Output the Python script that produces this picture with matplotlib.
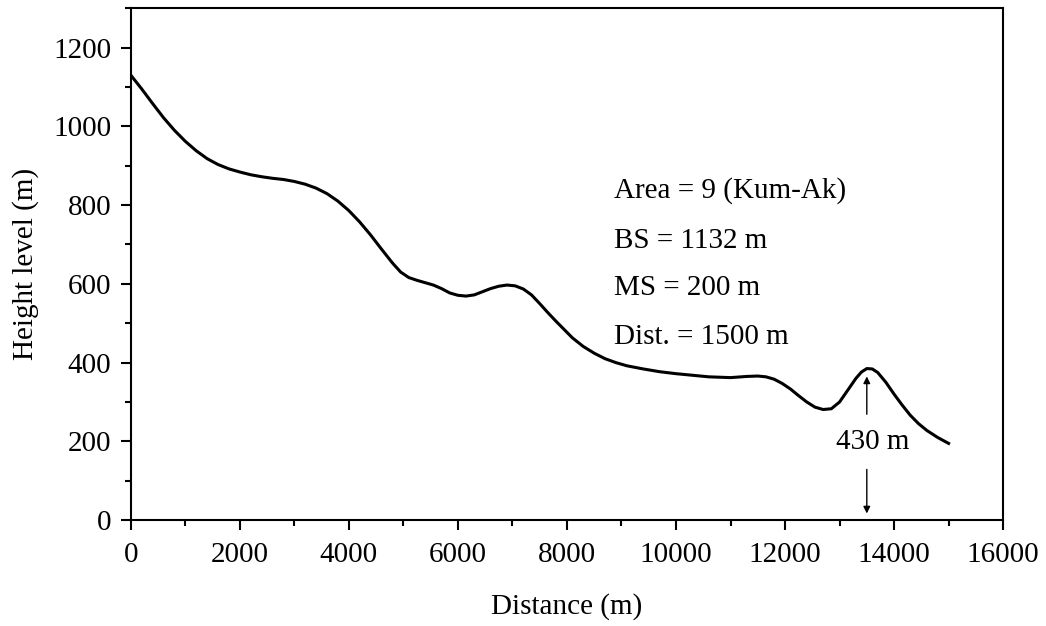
import matplotlib.pyplot as plt
from matplotlib.ticker import MultipleLocator

# profile
distance = [0, 200, 400, 600, 800, 1000, 1200, 1400, 1600, 1800, 2000, 2200,
            2400, 2600, 2800, 3000, 3200, 3400, 3600, 3800, 4000, 4200, 4400,
            4600, 4800, 4950, 5100, 5250, 5400, 5550, 5700, 5850, 6000, 6150,
            6300, 6450, 6600, 6750, 6900, 7050, 7200, 7350, 7500, 7650, 7800,
            7950, 8100, 8300, 8500, 8700, 8900, 9100, 9400, 9700, 10000, 10300,
            10600, 11000, 11300, 11500, 11650, 11800, 11950, 12100, 12250,
            12400, 12550, 12700, 12850, 13000, 13150, 13300, 13400, 13500,
            13600, 13700, 13850, 14000, 14150, 14300, 14450, 14600, 14800,
            15000]
height = [1130, 1095, 1058, 1022, 990, 962, 938, 918, 903, 892, 884, 877,
          872, 868, 865, 860, 853, 843, 829, 810, 786, 757, 724,
          688, 653, 630, 616, 609, 603, 597, 588, 577, 571, 569,
          572, 580, 588, 594, 597, 595, 587, 572, 550, 527, 505,
          484, 463, 441, 424, 410, 400, 392, 384, 377, 372, 368,
          364, 362, 365, 366, 364, 358, 347, 333, 316,
          300, 287, 281, 283, 300, 330, 360, 376, 385,
          384, 375, 350, 320, 292, 266, 245, 228, 210,
          195]

info_lines = ["Area = 9 (Kum-Ak)", "BS = 1132 m", "MS = 200 m", "Dist. = 1500 m"]
info_y = [837, 710, 590, 465]
peak_x = 13500
peak_label = "430 m"

plt.rcParams['font.family'] = ['Liberation Serif', 'DejaVu Serif']
fs = 21

fig = plt.figure(figsize=(10.46, 6.26), dpi=100)
ax = fig.add_axes([0.125, 0.169, 0.834, 0.818])

ax.plot(distance, height, color='black', lw=2.2, solid_joinstyle='round')

for txt, yy in zip(info_lines, info_y):
    ax.text(8870, yy, txt, fontsize=fs, va='center', ha='left')

# height annotation at the last peak
ax.annotate("", xy=(peak_x, 372), xytext=(peak_x, 262),
            arrowprops=dict(arrowstyle='-|>', color='black', lw=1.0,
                            mutation_scale=10))
ax.annotate("", xy=(peak_x, 10), xytext=(peak_x, 136),
            arrowprops=dict(arrowstyle='-|>', color='black', lw=1.0,
                            mutation_scale=10))
ax.text(peak_x + 100, 198, peak_label, fontsize=fs, ha='center', va='center')

ax.set_xlim(0, 16000)
ax.set_ylim(0, 1300)
ax.xaxis.set_major_locator(MultipleLocator(2000))
ax.xaxis.set_minor_locator(MultipleLocator(1000))
ax.yaxis.set_major_locator(MultipleLocator(200))
ax.yaxis.set_minor_locator(MultipleLocator(100))

ax.tick_params(which='both', direction='out', top=False, right=False,
               width=1.5, labelsize=fs)
ax.tick_params(axis='x', which='major', length=7, pad=9)
ax.tick_params(axis='y', which='major', length=7, pad=7)
ax.tick_params(which='minor', length=4)
for sp in ax.spines.values():
    sp.set_linewidth(1.5)

ax.set_xlabel("Distance (m)", fontsize=fs, labelpad=18)
ax.set_ylabel("Height level (m)", fontsize=fs, labelpad=10)

fig.savefig("out.png", dpi=100)
